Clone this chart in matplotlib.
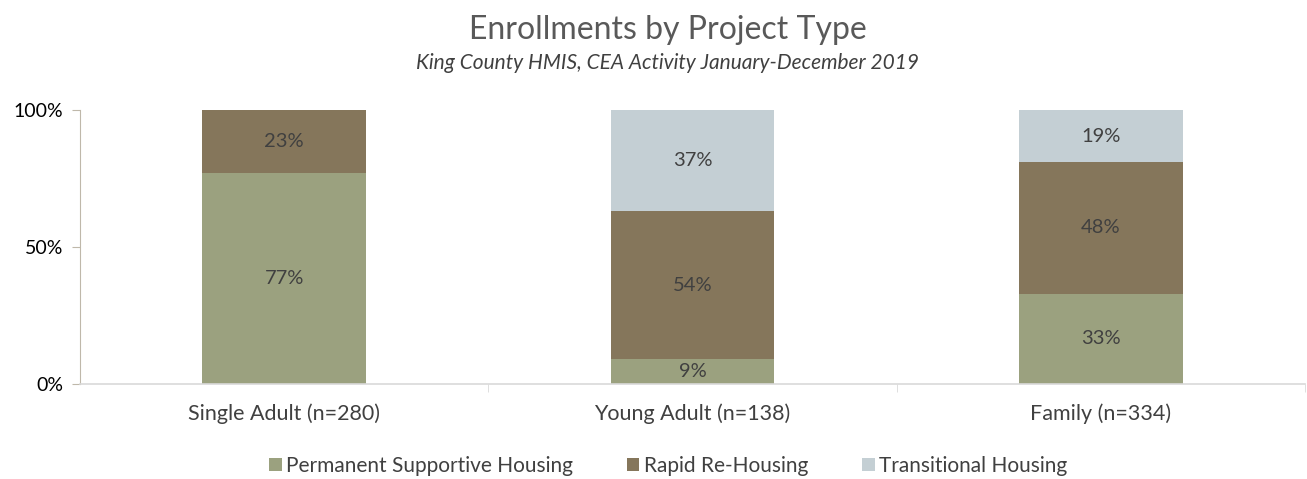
import numpy as np
import matplotlib
matplotlib.use('Agg')
import matplotlib.pyplot as plt
from matplotlib.ticker import FixedLocator

plt.rcParams['font.family'] = ['Lato', 'DejaVu Sans']

categories = ['Single Adult (n=280)', 'Young Adult (n=138)', 'Family (n=334)']
series_names = ['Permanent Supportive Housing', 'Rapid Re-Housing', 'Transitional Housing']
psh = [77, 9, 33]
rrh = [23, 54, 48]
th = [0, 37, 19]
colors = ['#9BA17F', '#85765B', '#C4CFD4']

fig = plt.figure(figsize=(13.07, 4.79), dpi=100)
ax = fig.add_axes([80 / 1307, 1 - 384 / 479, 1225 / 1307, 274 / 479])

x = np.arange(len(categories))
bottom = np.zeros(len(categories))
for name, vals, c in zip(series_names, [psh, rrh, th], colors):
	vals = np.array(vals, dtype=float)
	ax.bar(x, vals, 0.4, bottom=bottom, color=c, label=name, zorder=2)
	for xi, b, v in zip(x, bottom, vals):
		if v > 0:
			ax.text(xi, b + v / 2, '%d%%' % v, ha='center', va='center',
					fontsize=14.5, color='#404040', zorder=3)
	bottom += vals

ax.set_xlim(-0.5, 2.5)
ax.set_ylim(0, 100)
ax.set_yticks([0, 50, 100])
ax.set_yticklabels(['0%', '50%', '100%'], fontsize=14, color='black')
ax.set_xticks(x)
ax.set_xticklabels(categories, fontsize=15.5, color='#404040')
ax.tick_params(axis='x', length=0, pad=14)
ax.xaxis.set_minor_locator(FixedLocator([0.5, 1.5, 2.5]))
ax.tick_params(axis='x', which='minor', length=6, color='#D9D9D9', direction='out')
ax.tick_params(axis='y', length=6, color='#BFB8AA', direction='out', pad=6)

for s in ['top', 'right']:
	ax.spines[s].set_visible(False)
ax.spines['left'].set_color('#BFB8AA')
ax.spines['bottom'].set_color('#D9D9D9')
ax.spines['bottom'].set_linewidth(1.2)

fig.text(668 / 1307, 1 - 30 / 479, 'Enrollments by Project Type', ha='center', va='center',
		 fontsize=23, color='#595959')
fig.text(668 / 1307, 1 - 63 / 479, 'King County HMIS, CEA Activity January-December 2019',
		 ha='center', va='center', fontsize=15, style='italic', color='#404040')

fig.legend(loc='center', bbox_to_anchor=(668 / 1307, 1 - 466 / 479), ncol=3, frameon=False,
		   fontsize=15, handlelength=0.6, handleheight=0.6, handletextpad=0.2,
		   columnspacing=2.6, labelcolor='#404040')

fig.savefig('out.png', dpi=100)
